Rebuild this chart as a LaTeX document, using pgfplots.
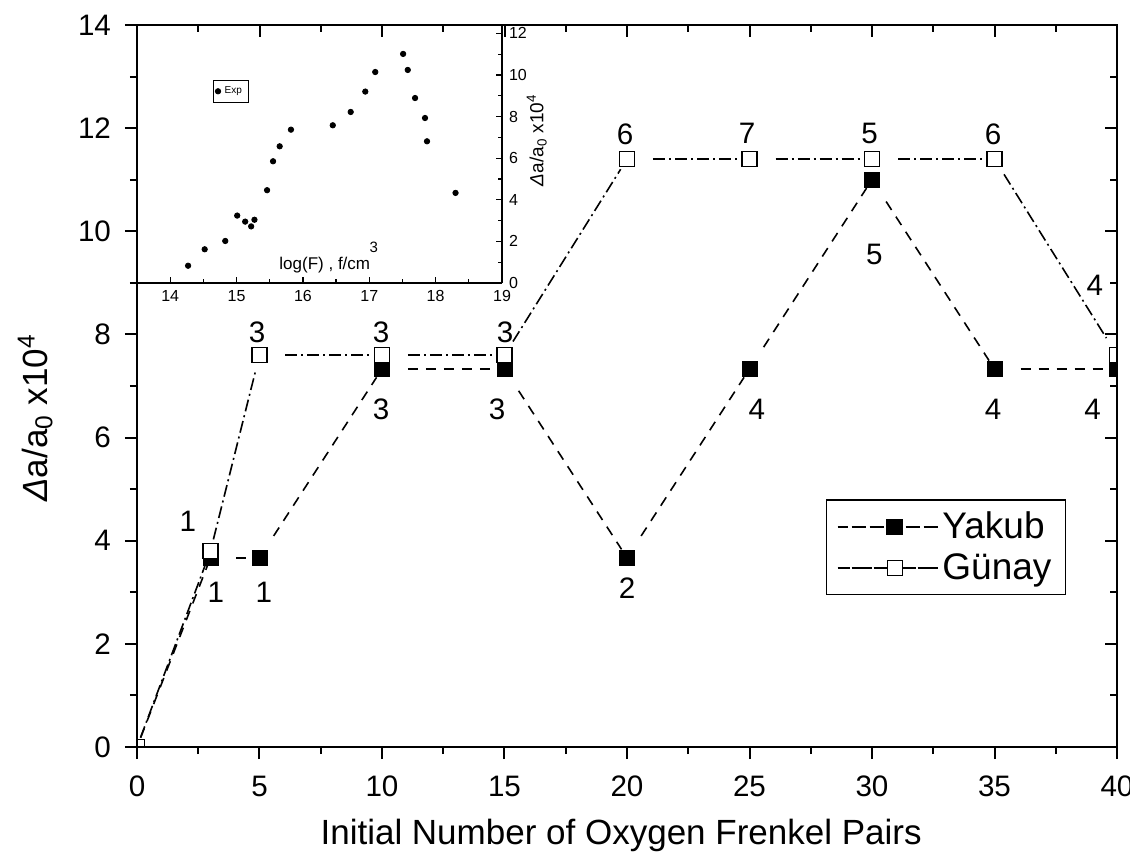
\documentclass[border=0pt]{standalone}
\usepackage{fontspec}
\setmainfont{Liberation Sans}
\usepackage{pgfplots}
\pgfplotsset{compat=1.18}
\begin{document}
\begin{tikzpicture}
\useasboundingbox (-68.5pt,-55.5pt) rectangle (496.5pt,373.5pt);
\pgfplotsset{
  yak/.style={black, line width=0.8pt, dash pattern=on 5pt off 4pt},
  gun/.style={black, line width=0.8pt, dash pattern=on 6pt off 2pt on 1pt off 2pt},
  seg/.style={shorten <=13pt, shorten >=5pt},
}
\tikzset{lbl/.style={font=\fontsize{14.8}{17}\selectfont}}
% main axis (bottom/left ticks outside)
\begin{axis}[
  at={(0,0)}, anchor=south west, scale only axis,
  width=490pt, height=361pt,
  xmin=0, xmax=40, ymin=0, ymax=14,
  xtick={0,5,...,40}, ytick={0,2,...,14},
  minor x tick num=1, minor y tick num=1,
  xtick pos=left, ytick pos=left, tick align=outside,
  major tick length=6pt, minor tick length=3.5pt,
  every tick/.style={black, line width=1pt},
  axis line style={line width=1.3pt},
  ticklabel style={font=\fontsize{14.8}{17}\selectfont},
  x tick label style={yshift=-5pt},
  y tick label style={xshift=-3.5pt},
  /pgf/number format/assume math mode=true,
  clip marker paths=true,
  xlabel={Initial Number of Oxygen Frenkel Pairs},
  ylabel={{\itshape Δ}a/a\textsubscript{0} x10\textsuperscript{4}},
  label style={font=\fontsize{17.5}{20}\selectfont},
  x label style={at={(axis description cs:0.494,-0.123)}, anchor=center},
  y label style={at={(axis description cs:-0.104,0.456)}, anchor=center},
  legend style={at={(0.948,0.343)}, anchor=north east, draw=black, line width=0.6pt,
    font=\fontsize{18.5}{21}\selectfont, row sep=2pt, inner xsep=5pt, inner ysep=4pt},
  legend cell align=left,
  legend image code/.code={\path (0pt,0pt) -- (50pt,0pt);
    \draw[#1, mark repeat=2, mark phase=2] plot coordinates {(7pt,0pt) (28.5pt,0pt) (50pt,0pt)};},
]
\addlegendimage{yak, mark=square*, mark size=3.75pt, mark options={solid, fill=black}}
\addlegendentry{Yakub}
\addlegendimage{gun, mark=square*, mark size=3.75pt, mark options={solid, fill=white, line width=0.6pt}}
\addlegendentry{Günay}
% Yakub segments
\addplot[yak, shorten <=5pt, shorten >=2pt, forget plot] coordinates {(0,0) (3,3.67)};
\addplot[yak, seg, forget plot] coordinates {(3,3.67) (5,3.67)};
\addplot[yak, seg, forget plot] coordinates {(5,3.67) (10,7.33)};
\addplot[yak, seg, forget plot] coordinates {(10,7.33) (15,7.33)};
\addplot[yak, seg, forget plot] coordinates {(15,7.33) (20,3.67)};
\addplot[yak, seg, forget plot] coordinates {(20,3.67) (25,7.33)};
\addplot[yak, seg, forget plot] coordinates {(25,7.33) (30,11.0)};
\addplot[yak, seg, forget plot] coordinates {(30,11.0) (35,7.33)};
\addplot[yak, seg, forget plot] coordinates {(35,7.33) (40,7.33)};
% Gunay segments
\addplot[gun, shorten <=5pt, shorten >=4pt, forget plot] coordinates {(0,0) (3,3.8)};
\addplot[gun, shorten <=6pt, shorten >=9pt, forget plot] coordinates {(3,3.8) (5,7.6)};
\addplot[gun, seg, forget plot] coordinates {(5,7.6) (10,7.6)};
\addplot[gun, seg, forget plot] coordinates {(10,7.6) (15,7.6)};
\addplot[gun, shorten <=8pt, shorten >=6pt, forget plot] coordinates {(15,7.6) (20,11.4)};
\addplot[gun, seg, forget plot] coordinates {(20,11.4) (25,11.4)};
\addplot[gun, seg, forget plot] coordinates {(25,11.4) (30,11.4)};
\addplot[gun, seg, forget plot] coordinates {(30,11.4) (35,11.4)};
\addplot[gun, shorten <=9pt, shorten >=10pt, forget plot] coordinates {(35,11.4) (40,7.6)};
% markers
\addplot[only marks, mark=square*, mark size=3.75pt, mark options={fill=black, draw=black}, forget plot]
  coordinates {(0,0) (3,3.67) (5,3.67) (10,7.33) (15,7.33) (20,3.67) (25,7.33) (30,11.0) (35,7.33) (40,7.33)};
\addplot[only marks, mark=square*, mark size=3.75pt, mark options={fill=white, draw=black, line width=0.6pt}, forget plot]
  coordinates {(0,0) (3,3.8) (5,7.6) (10,7.6) (15,7.6) (20,11.4) (25,11.4) (30,11.4) (35,11.4) (40,7.6)};
% point labels
\node[lbl] at (axis cs:2.08,4.38) {1};
\node[lbl] at (axis cs:3.22,3.0) {1};
\node[lbl] at (axis cs:5.18,3.0) {1};
\node[lbl] at (axis cs:4.9,8.05) {3};
\node[lbl] at (axis cs:9.96,8.05) {3};
\node[lbl] at (axis cs:9.96,6.55) {3};
\node[lbl] at (axis cs:15.02,8.05) {3};
\node[lbl] at (axis cs:14.7,6.55) {3};
\node[lbl] at (axis cs:19.92,11.89) {6};
\node[lbl] at (axis cs:20.0,3.08) {2};
\node[lbl] at (axis cs:24.9,11.89) {7};
\node[lbl] at (axis cs:25.3,6.55) {4};
\node[lbl] at (axis cs:29.9,11.89) {5};
\node[lbl] at (axis cs:30.1,9.56) {5};
\node[lbl] at (axis cs:34.94,11.89) {6};
\node[lbl] at (axis cs:34.94,6.55) {4};
\node[lbl] at (axis cs:39.1,8.96) {4};
\node[lbl] at (axis cs:39.0,6.55) {4};
\end{axis}
% top/right ticks inside
\begin{axis}[
  at={(0,0)}, anchor=south west, scale only axis,
  width=490pt, height=361pt,
  xmin=0, xmax=40, ymin=0, ymax=14,
  xtick={0,5,...,40}, ytick={0,2,...,14},
  minor x tick num=1, minor y tick num=1,
  xtick pos=right, ytick pos=right, tick align=inside,
  xticklabels={}, yticklabels={},
  major tick length=6pt, minor tick length=3.5pt,
  every tick/.style={black, line width=1pt},
  axis line style={line width=1.3pt},
]
\end{axis}
% inset
\begin{axis}[
  at={(0,232pt)}, anchor=south west, scale only axis,
  width=182.5pt, height=129pt,
  xmin=13.5, xmax=19, ymin=0, ymax=12.4,
  axis x line*=bottom, axis y line*=right,
  xtick={14,...,19}, ytick={0,2,...,12},
  minor x tick num=1, minor y tick num=1,
  tick align=inside,
  major tick length=3pt, minor tick length=1.8pt,
  every tick/.style={black, line width=0.6pt},
  axis line style={-, line width=0.8pt},
  ticklabel style={font=\fontsize{8}{9}\selectfont},
  /pgf/number format/assume math mode=true,
  ylabel={{\itshape Δ}a/a\textsubscript{0} x10\textsuperscript{4}},
  y label style={at={(axis description cs:1.095,0.554)}, anchor=center, font=\fontsize{9.5}{11}\selectfont},
  legend style={at={(0.208,0.787)}, anchor=north west, draw=black, line width=0.4pt,
    font=\fontsize{5}{6}\selectfont, inner sep=1pt},
  legend image code/.code={\draw[#1] plot coordinates {(0pt,0pt)};},
]
\addplot[only marks, mark=*, mark size=1.35pt, black] coordinates {
(14.27,0.83) (14.52,1.62) (14.83,2.02) (15.01,3.24) (15.13,2.95) (15.22,2.72)
(15.27,3.04) (15.46,4.46) (15.55,5.85) (15.65,6.57) (15.82,7.37) (16.45,7.58)
(16.72,8.22) (16.94,9.20) (17.09,10.14) (17.51,11.01) (17.58,10.24) (17.69,8.89)
(17.84,7.93) (17.87,6.81) (18.30,4.33)};
\addlegendentry{Exp}
\node[font=\fontsize{8.5}{10}\selectfont] at (axis cs:16.33,0.87) {log(F) , f/cm};
\node[font=\fontsize{7.5}{9}\selectfont] at (axis cs:17.07,1.73) {3};
\end{axis}
\end{tikzpicture}
\end{document}
